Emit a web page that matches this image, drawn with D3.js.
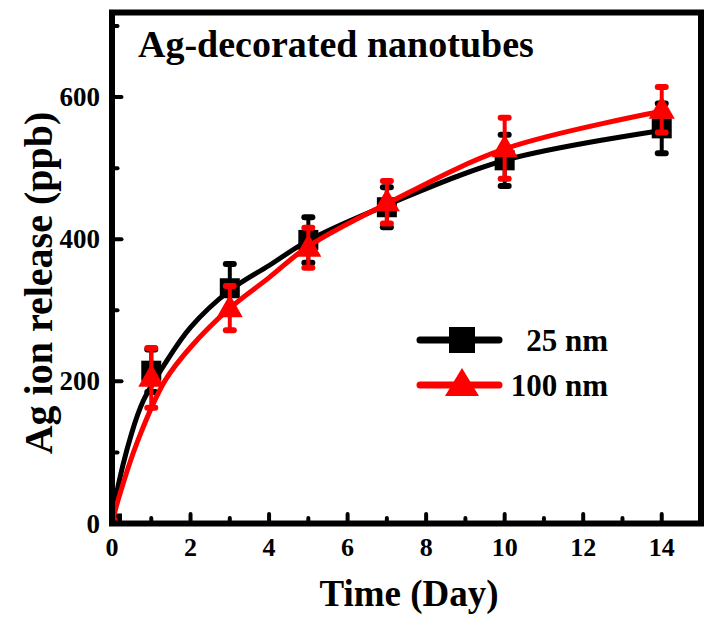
<!DOCTYPE html>
<html><head><meta charset="utf-8">
<script src="https://cdn.jsdelivr.net/npm/d3@7"></script>
<style>body{margin:0;background:#fff}svg{display:block}text{font-family:"Liberation Serif","Times New Roman",serif;font-weight:bold}</style>
</head><body><svg id="c" width="714" height="619"></svg>
<script>
const days = [0, 1, 3, 5, 7, 10, 14];
const release25 = [0, 215, 331, 399, 445, 511, 556];
const err25 = [0, 30, 34, 32, 28, 36, 35];
const release100 = [0, 205, 303, 388, 452, 528, 582];
const err100 = [0, 42, 31, 28, 30, 43, 32];
// fitted curves
const fitT25 = [0, 0.08, 0.5, 0.8, 1.35, 2, 3, 4, 5, 7, 10, 14];
const fitV25 = [0, 32, 127, 173, 225, 276, 328, 363, 398, 448, 511, 553];
const fitT100 = [0, 0.15, 0.66, 1.35, 2, 3, 4, 5, 7, 10, 14];
const fitV100 = [0, 32, 117, 201, 248, 303, 346, 390, 450, 527, 580];
const xTicks = [0, 2, 4, 6, 8, 10, 12, 14];
const xMinor = [1, 3, 5, 7, 9, 11, 13];
const yTicks = [0, 200, 400, 600];
const yMinor = [100, 300, 500, 700];
const seriesNames = ["25 nm", "100 nm"];
const colors = ["#000000", "#ff0000"];

const svg = d3.select("#c");
const x = d3.scaleLinear().domain([0, 15]).range([112, 701]);
const y = d3.scaleLinear().domain([0, 719]).range([523.5, 12.5]);

svg.append("defs").append("clipPath").attr("id", "clip")
  .append("rect").attr("x", 112).attr("y", 12.5).attr("width", 589).attr("height", 511);

const plot = svg.append("g").attr("clip-path", "url(#clip)");

const line = d3.line().x(d => x(d[0])).y(d => y(d[1])).curve(d3.curveCatmullRom.alpha(0.5));

function drawSeries(ts, vs, vals, errs, color, marker) {
  plot.append("path").datum(ts.map((t, i) => [t, vs[i]]))
    .attr("d", line).attr("fill", "none").attr("stroke", color)
    .attr("stroke-width", 5).attr("stroke-linejoin", "round");
  const g = plot.append("g");
  days.forEach((d, i) => {
    if (errs[i] > 0) {
      g.append("line").attr("x1", x(d)).attr("x2", x(d))
        .attr("y1", y(vals[i] - errs[i])).attr("y2", y(vals[i] + errs[i]))
        .attr("stroke", color).attr("stroke-width", 4);
      [vals[i] - errs[i], vals[i] + errs[i]].forEach(v => {
        g.append("line").attr("x1", x(d) - 4).attr("x2", x(d) + 4)
          .attr("y1", y(v)).attr("y2", y(v))
          .attr("stroke", color).attr("stroke-width", 6).attr("stroke-linecap", "round");
      });
    }
    const cx = x(d), cy = y(vals[i]);
    if (marker === "square") {
      g.append("rect").attr("x", cx - 10).attr("y", cy - 10).attr("width", 20).attr("height", 20).attr("fill", color);
    } else {
      g.append("path").attr("d", `M${cx},${cy - 14}L${cx + 13},${cy + 9}L${cx - 13},${cy + 9}Z`).attr("fill", color);
    }
  });
}
drawSeries(fitT25, fitV25, release25, err25, colors[0], "square");
drawSeries(fitT100, fitV100, release100, err100, colors[1], "triangle");

// frame
svg.append("rect").attr("x", 112).attr("y", 12.5).attr("width", 589).attr("height", 511)
  .attr("fill", "none").attr("stroke", "#000").attr("stroke-width", 6);

// inward ticks
const xAxis = svg.append("g");
xTicks.forEach(t => xAxis.append("line").attr("x1", x(t)).attr("x2", x(t)).attr("y1", 523.5).attr("y2", 514)
  .attr("stroke", "#000").attr("stroke-width", 4).attr("stroke-linecap", "round"));
xMinor.forEach(t => xAxis.append("line").attr("x1", x(t)).attr("x2", x(t)).attr("y1", 523.5).attr("y2", 518)
  .attr("stroke", "#000").attr("stroke-width", 4).attr("stroke-linecap", "round"));
xTicks.forEach(t => xAxis.append("text").attr("x", x(t)).attr("y", 556).attr("text-anchor", "middle")
  .attr("font-size", 26).text(t));
const yAxis = svg.append("g");
yTicks.forEach(t => yAxis.append("line").attr("x1", 112).attr("x2", 121.5).attr("y1", y(t)).attr("y2", y(t))
  .attr("stroke", "#000").attr("stroke-width", 4).attr("stroke-linecap", "round"));
yMinor.forEach(t => yAxis.append("line").attr("x1", 112).attr("x2", 117.5).attr("y1", y(t)).attr("y2", y(t))
  .attr("stroke", "#000").attr("stroke-width", 4).attr("stroke-linecap", "round"));
yTicks.forEach(t => yAxis.append("text").attr("x", 100).attr("y", y(t) + 9).attr("text-anchor", "end")
  .attr("font-size", 27).text(t));

// titles
svg.append("text").attr("x", 138).attr("y", 57).attr("font-size", 38).text("Ag-decorated nanotubes");
svg.append("text").attr("x", 409).attr("y", 606).attr("text-anchor", "middle").attr("font-size", 37).text("Time (Day)");
svg.append("text").attr("transform", "translate(52,283) rotate(-90)").attr("text-anchor", "middle")
  .attr("font-size", 40).text("Ag ion release (ppb)");

// legend
const lg = svg.append("g");
const ly = [340, 385];
seriesNames.forEach((n, i) => {
  lg.append("line").attr("x1", 420).attr("x2", 499).attr("y1", ly[i]).attr("y2", ly[i])
    .attr("stroke", colors[i]).attr("stroke-width", 7).attr("stroke-linecap", "round");
  if (i === 0) {
    lg.append("rect").attr("x", 449).attr("y", ly[i] - 13).attr("width", 26).attr("height", 26).attr("fill", colors[i]);
  } else {
    lg.append("path").attr("d", `M462,${ly[i] - 17}L479,${ly[i] + 11}L445,${ly[i] + 11}Z`).attr("fill", colors[i]);
  }
  lg.append("text").attr("x", 608).attr("y", ly[i] + 11).attr("text-anchor", "end").attr("font-size", 31).text(n);
});
</script></body></html>
